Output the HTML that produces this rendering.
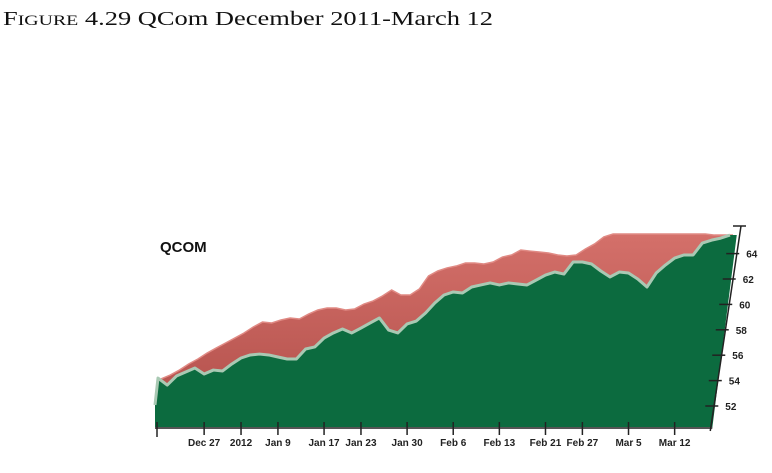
<!DOCTYPE html>
<html><head><meta charset="utf-8">
<style>
html,body{margin:0;padding:0;background:#fff;}
svg{display:block;}
</style></head>
<body>
<svg id="chart" width="772" height="473" viewBox="0 0 772 473" xmlns="http://www.w3.org/2000/svg">
  <text x="3" y="25" font-family="Liberation Serif, serif" font-size="20" textLength="490" lengthAdjust="spacingAndGlyphs" fill="#111">F<tspan font-size="15">IGURE</tspan> 4.29 QCom  December 2011-March 12</text>
  <text x="160" y="252" font-family="Liberation Sans, sans-serif" font-weight="bold" font-size="15" fill="#111">QCOM</text>
  <g id="series"></g>
  <g id="axes"></g>
</svg>
<script>
const dayLabels = ["Dec 27","2012","Jan 9","Jan 17","Jan 23","Jan 30","Feb 6","Feb 13","Feb 21","Feb 27","Mar 5","Mar 12"];
const dayIndex = [5,9,13,18,22,27,32,37,42,46,51,56];
const yTicks = [52,54,56,58,60,62,64];
const closeValues = [54.20,53.65,54.36,54.68,54.99,54.52,54.83,54.76,55.31,55.78,
  56.02,56.09,56.02,55.86,55.70,55.70,56.49,56.65,57.35,57.75,
  58.06,57.75,58.14,58.54,58.93,57.98,57.75,58.46,58.69,59.32,
  60.11,60.74,60.98,60.90,61.37,61.53,61.69,61.53,61.69,61.61,
  61.53,61.92,62.31,62.55,62.39,63.34,63.34,63.18,62.63,62.16,
  62.55,62.47,62.00,61.37,62.47,63.10,63.65,63.89,63.89,64.83,
  65.06,65.22,65.46];
const backValues = [54.13,54.44,54.83,55.31,55.70,56.17,56.57,56.96,57.35,57.75,
  58.22,58.61,58.54,58.77,58.93,58.85,59.24,59.56,59.72,59.72,
  59.56,59.64,60.03,60.27,60.66,61.13,60.74,60.74,61.21,62.24,
  62.63,62.87,63.02,63.26,63.26,63.18,63.34,63.73,63.89,64.28,
  64.20,64.13,64.05,63.89,63.81,63.89,64.36,64.76,65.31,65.54,
  65.54,65.54,65.54,65.54,65.54,65.54,65.54,65.54,65.54,65.54,
  65.46,65.46,65.46];

const NS = "http://www.w3.org/2000/svg";
const n = closeValues.length;
const x0 = 158, x1 = 730;
const xScale = i => x0 + i * (x1 - x0) / (n - 1);
const yScale = v => 406 - (v - 52) * 12.7;
const baseY = 428;
// slanted right axis
const axisX = y => 712 + (430 - y) * (28 / 204);

const series = document.getElementById('series');
const axes = document.getElementById('axes');

function mk(tag, attrs) {
  const e = document.createElementNS(NS, tag);
  for (const k in attrs) e.setAttribute(k, attrs[k]);
  return e;
}

// back (red) wall
const topPts = closeValues.map((v, i) => [xScale(i), yScale(v)]);
const backPts = backValues.map((v, i) => [xScale(i) + 3, yScale(v)]);
let redPts = backPts.map(p => p.join(',')).concat(topPts.slice().reverse().map(p => p.join(',')));
const grad = mk('linearGradient', {id: 'rg', x1: '0', y1: '0', x2: '0', y2: '1'});
grad.appendChild(mk('stop', {offset: '0', 'stop-color': '#d4706a'}));
grad.appendChild(mk('stop', {offset: '1', 'stop-color': '#b85550'}));
const defs = mk('defs', {});
defs.appendChild(grad);
series.appendChild(defs);
const red = mk('polygon', {points: redPts.join(' '), fill: 'url(#rg)'});


series.appendChild(red);
const redLine = mk('polyline', {points: backPts.map(p => p.join(',')).join(' '), fill: 'none', stroke: '#e08a84', 'stroke-width': '1.5'});


series.appendChild(redLine);

// front (green) face
const lastY = topPts[n - 1][1];
let gPts = [[155, baseY], [155, 405]].concat(topPts).concat([[axisX(lastY) - 2, lastY], [axisX(baseY), baseY]]);
const green = mk('polygon', {points: gPts.map(p => p.join(',')).join(' '), fill: '#0c6b3f'});


series.appendChild(green);
const line = mk('polyline', {points: [[155, 405]].concat(topPts).map(p => p.join(',')).join(' '), fill: 'none', stroke: '#a9c9b3', 'stroke-width': '3', 'stroke-linejoin': 'round'});


series.appendChild(line);

// x axis
const xa = mk('line', {x1: 155, y1: baseY, x2: axisX(baseY), y2: baseY, stroke: '#555', 'stroke-width': '2'});


axes.appendChild(xa);
const lt = mk('line', {x1: 157, y1: 422, x2: 157, y2: 437, stroke: '#222', 'stroke-width': '1.5'});


axes.appendChild(lt);
dayIndex.forEach((d, k) => {
  const x = xScale(d);
  const t = mk('line', {x1: x, y1: 422, x2: x, y2: 435, stroke: '#222', 'stroke-width': '1.5'});
  
  
  axes.appendChild(t);
  const tx = mk('text', {x: x, y: 446, 'text-anchor': 'middle', 'font-family': 'Liberation Sans, sans-serif', 'font-size': '10', 'font-weight': 'bold', fill: '#222'});
  tx.textContent = dayLabels[k];
  
  
  axes.appendChild(tx);
});

// y axis (slanted)
const ya = mk('line', {x1: axisX(baseY) - 2, y1: 431, x2: 741, y2: 226, stroke: '#222', 'stroke-width': '1.5'});


axes.appendChild(ya);
const tt = mk('line', {x1: 733, y1: 226, x2: 746, y2: 226, stroke: '#222', 'stroke-width': '1.5'});


axes.appendChild(tt);
yTicks.forEach(v => {
  const y = yScale(v);
  const ax = axisX(y);
  const t = mk('line', {x1: ax - 10, y1: y, x2: ax + 3, y2: y, stroke: '#222', 'stroke-width': '1.5'});
  
  
  axes.appendChild(t);
  const tx = mk('text', {x: ax + 10, y: y + 4, 'font-family': 'Liberation Sans, sans-serif', 'font-size': '10', 'font-weight': 'bold', fill: '#222'});
  tx.textContent = v;
  
  
  axes.appendChild(tx);
});
</script>
</body></html>
